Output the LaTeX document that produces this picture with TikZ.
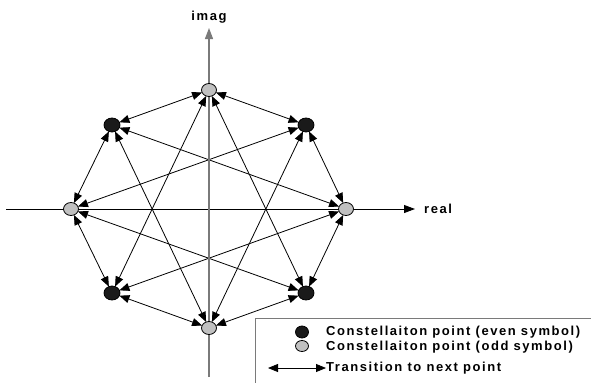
\documentclass[tikz,border=0pt]{standalone}
\usepackage{fontspec}
\setmainfont{Liberation Sans}
\newfontfamily\lblfont[LetterSpace=12]{Liberation Sans}
\usepackage{xcolor}
\usetikzlibrary{arrows.meta,backgrounds,shapes.geometric}
\definecolor{EvenFill}{HTML}{1A1A1A}
\definecolor{OddFill}{HTML}{C0C0C0}
\definecolor{AxisGray}{HTML}{7A7A7A}

\begin{document}
\begin{tikzpicture}[x=1pt,y=-1pt,
  every node/.style={font=\lblfont\bfseries\fontsize{13}{15}\selectfont},
  EV/.style={ellipse, draw=black, fill=EvenFill, line width=0.8pt,
             minimum width=16pt, minimum height=14pt, inner sep=0pt, outer sep=0pt},
  OD/.style={ellipse, draw=black, fill=OddFill, line width=0.8pt,
             minimum width=15pt, minimum height=13pt, inner sep=0pt, outer sep=0pt},
  ar/.style={{Triangle[length=10pt,width=8pt]}-{Triangle[length=10pt,width=8pt]}, line width=0.8pt},
  ax/.style={-{Triangle[length=11pt,width=8pt]}, line width=0.9pt},
]
  \useasboundingbox (0,0) rectangle (591,383);

  % EVEN SYMBOLS
  \node[EV] (b1) at (112,125) {};
  \node[EV] (b2) at (306,125) {};
  \node[EV] (b3) at (306,293) {};
  \node[EV] (b4) at (112,293) {};

  % ODD SYMBOLS
  \node[OD] (g1) at (209,90)  {};
  \node[OD] (g2) at (346,209) {};
  \node[OD] (g3) at (209,328) {};
  \node[OD] (g4) at (71,209)  {};

  % Axes
  \coordinate (xl) at (6,209);
  \coordinate (xr) at (415,209);
  \coordinate (yb) at (209,377);
  \coordinate (yt) at (209,28);
  \node[anchor=west, inner sep=0pt] (re) at (424,209) {real};
  \node[anchor=south, inner sep=0pt] (im) at (209,23) {imag};

  \begin{pgfonlayer}{background}
    \draw[ax] (xl) -- (xr);
    \foreach \a in {b1,b2,b3,b4}
      \foreach \b in {g1,g2,g3,g4}
        \draw[ar] (\a) -- (\b);
    \draw[ax, AxisGray, line width=1.3pt] (yb) -- (yt);
  \end{pgfonlayer}

  % Legend
  \draw[AxisGray, line width=1pt] (591,318) -| (255,383);
  \node[EV, minimum width=13pt, minimum height=12pt] (kev) at (302,332) {};
  \node[OD, minimum width=13pt, minimum height=11pt] (kod) at (302,346) {};
  \coordinate (ka) at (268,368);
  \coordinate (kb) at (326,368);
  \draw[ar] (ka) -- (kb);
  \node[anchor=west, inner sep=0pt] (tev) at (326,332) {Constellaiton point (even symbol)};
  \node[anchor=west, inner sep=0pt] (tod) at (326,347) {Constellaiton point (odd symbol)};
  \node[anchor=west, inner sep=0pt] (ttr) at (326,368) {Transition to next point};
\end{tikzpicture}
\end{document}
